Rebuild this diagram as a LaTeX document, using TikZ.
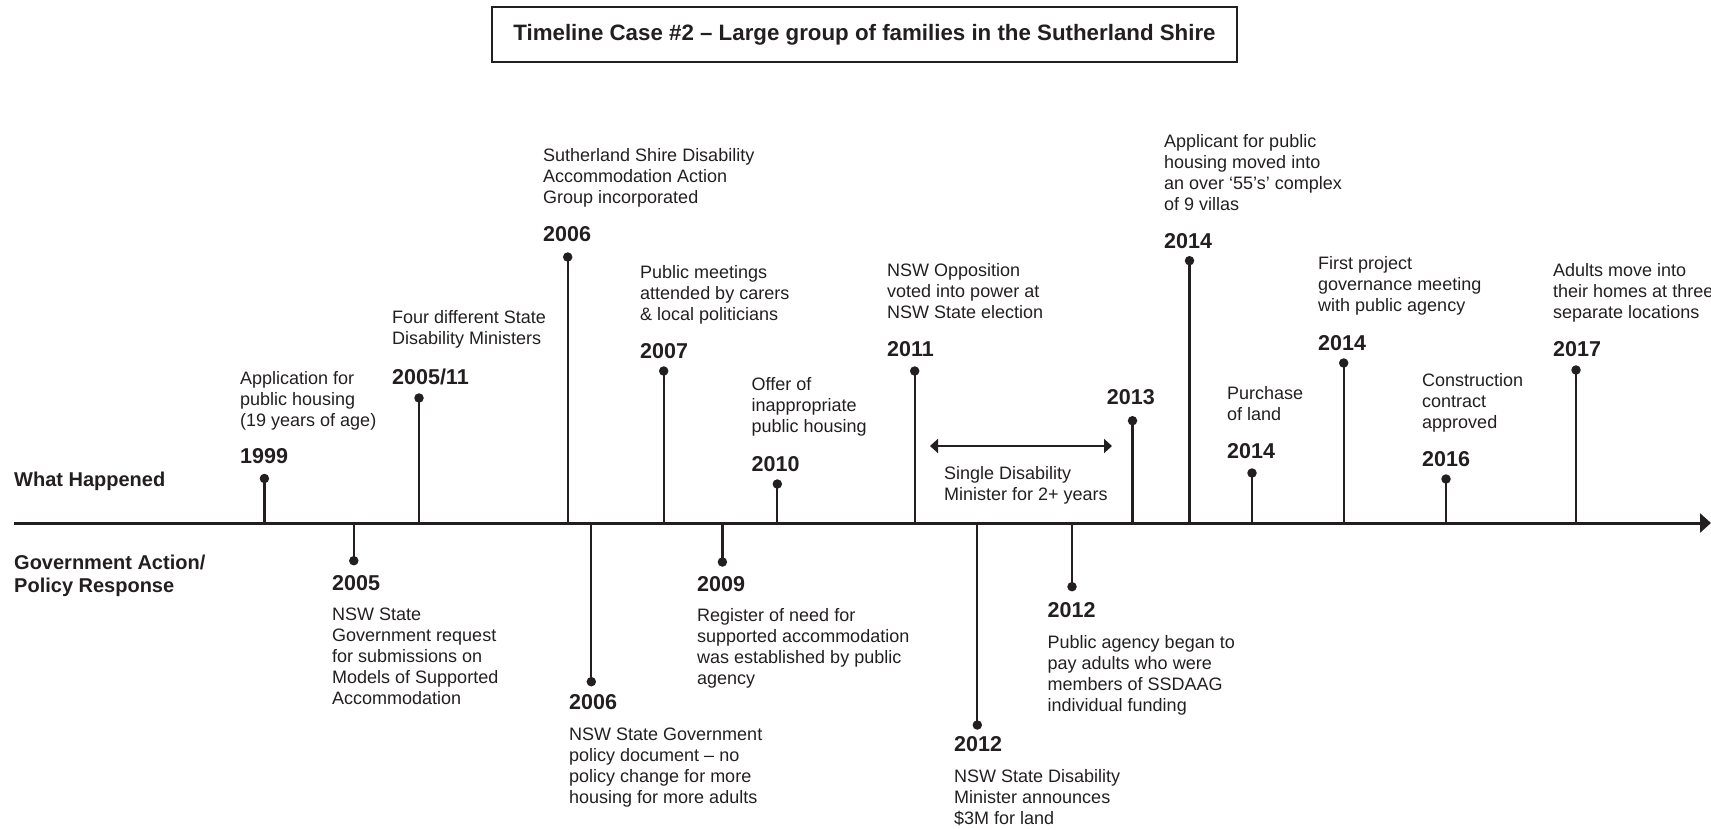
\documentclass[tikz,border=0pt]{standalone}
\usepackage{fontspec}
\setmainfont{Liberation Sans}
\usetikzlibrary{arrows.meta}
\definecolor{ink}{HTML}{231F20}

\tikzset{
  desc/.style={anchor=base west, align=left, inner sep=0pt, text=ink,
    font=\fontsize{18}{21}\selectfont},
  yr/.style={anchor=base west, inner sep=0pt, text=ink,
    font=\bfseries\fontsize{21.5}{24}\selectfont},
  side/.style={anchor=base west, align=left, inner sep=0pt, text=ink,
    font=\bfseries\fontsize{20}{23}\selectfont},
  dot/.style={circle, fill=ink, inner sep=0pt, minimum size=9.5pt},
  stem/.style={draw=ink, line width=2.3pt},
}

% #1 name, #2 stem x, #3 dot y, #4 label left, #5 year baseline,
% #6 year, #7 baseline of the last text line, #8 description
\newcommand\tlevent[8]{%
  \coordinate (#1-a) at (#2,523);
  \node[dot] (#1-d) at (#2,#3) {};
  \draw[stem] (#1-d.center) -- (#1-a);
  \node[yr] (#1-y) at (#4,#5) {#6};
  \node[desc] (#1-t) at (#4,#7) {#8};
}

\begin{document}
\begin{tikzpicture}[x=1pt, y=-1pt]
\useasboundingbox (0,0) rectangle (1711,830);

% title box
\node[draw=ink, line width=1.6pt, minimum width=745pt, minimum height=55pt,
      inner sep=0pt, text=ink, font=\bfseries\fontsize{22.3}{26}\selectfont]
  (title) at (864.5,34.5) {Timeline Case \#2 – Large group of families in the Sutherland Shire};

% row labels
\node[side] (happened) at (14,486) {What Happened};
\node[side] (govt) at (14,592) {Government Action/\\Policy Response};

% main time axis
\coordinate (axL) at (14,523);
\coordinate (axR) at (1711,523);

% events above the axis
\tlevent{e1999}{264.4}{478.5}{240}{463}{1999}{426}{Application for\\public housing\\(19 years of age)}
\tlevent{e2005b}{419}{398}{392}{384}{2005/11}{344}{Four different State\\Disability Ministers}
\tlevent{e2006a}{567.7}{257}{543}{241}{2006}{203}{Sutherland Shire Disability\\Accommodation Action\\Group incorporated}
\tlevent{e2007}{663.7}{371}{640}{358}{2007}{320}{Public meetings\\attended by carers\\\& local politicians}
\tlevent{e2010}{777.3}{484}{751.5}{471}{2010}{432}{Offer of\\inappropriate\\public housing}
\tlevent{e2011}{914.7}{371}{887}{356}{2011}{318}{NSW Opposition\\voted into power at\\NSW State election}
\coordinate (e2013-a) at (1132.5,523);
\node[dot] (e2013-d) at (1132.5,420.7) {};
\draw[stem] (e2013-d.center) -- (e2013-a);
\node[yr] (e2013-y) at (1106.7,404) {2013};
\tlevent{e2014a}{1189.5}{260.7}{1164}{248}{2014}{210}{Applicant for public\\housing moved into\\an over ‘55’s’ complex\\of 9 villas}
\tlevent{e2014b}{1252}{473}{1227}{458}{2014}{420}{Purchase\\of land}
\tlevent{e2014c}{1343.7}{363}{1318}{350}{2014}{311}{First project\\governance meeting\\with public agency}
\tlevent{e2016}{1446}{479}{1422}{466}{2016}{428}{Construction\\contract\\approved}
\tlevent{e2017}{1576}{370}{1553}{356}{2017}{318}{Adults move into\\their homes at three\\separate locations}

% events below the axis
\tlevent{g2005}{353.8}{560.7}{332}{590}{2005}{704}{NSW State\\Government request\\for submissions on\\Models of Supported\\Accommodation}
\tlevent{g2006}{591.3}{681.7}{569}{709}{2006}{803}{NSW State Government\\policy document – no\\policy change for more\\housing for more adults}
\tlevent{g2009}{722.4}{562}{697}{591}{2009}{684}{Register of need for\\supported accommodation\\was established by public\\agency}
\tlevent{g2012a}{977.3}{725}{954}{751}{2012}{824}{NSW State Disability\\Minister announces\\\$3M for land}
\tlevent{g2012b}{1072}{586.7}{1047.5}{617}{2012}{711}{Public agency began to\\pay adults who were\\members of SSDAAG\\individual funding}

% span of the single minister
\coordinate (spanL) at (930,446);
\coordinate (spanR) at (1112,446);
\draw[draw=ink, line width=2pt, {Triangle[length=8pt,width=14pt]}-{Triangle[length=8pt,width=14pt]}] (spanL) -- (spanR);
\node[desc] (span) at (944,500) {Single Disability\\Minister for 2+ years};

\draw[draw=ink, line width=3pt, -{Triangle[length=11pt,width=19pt]}] (axL) -- (axR);
\end{tikzpicture}
\end{document}
